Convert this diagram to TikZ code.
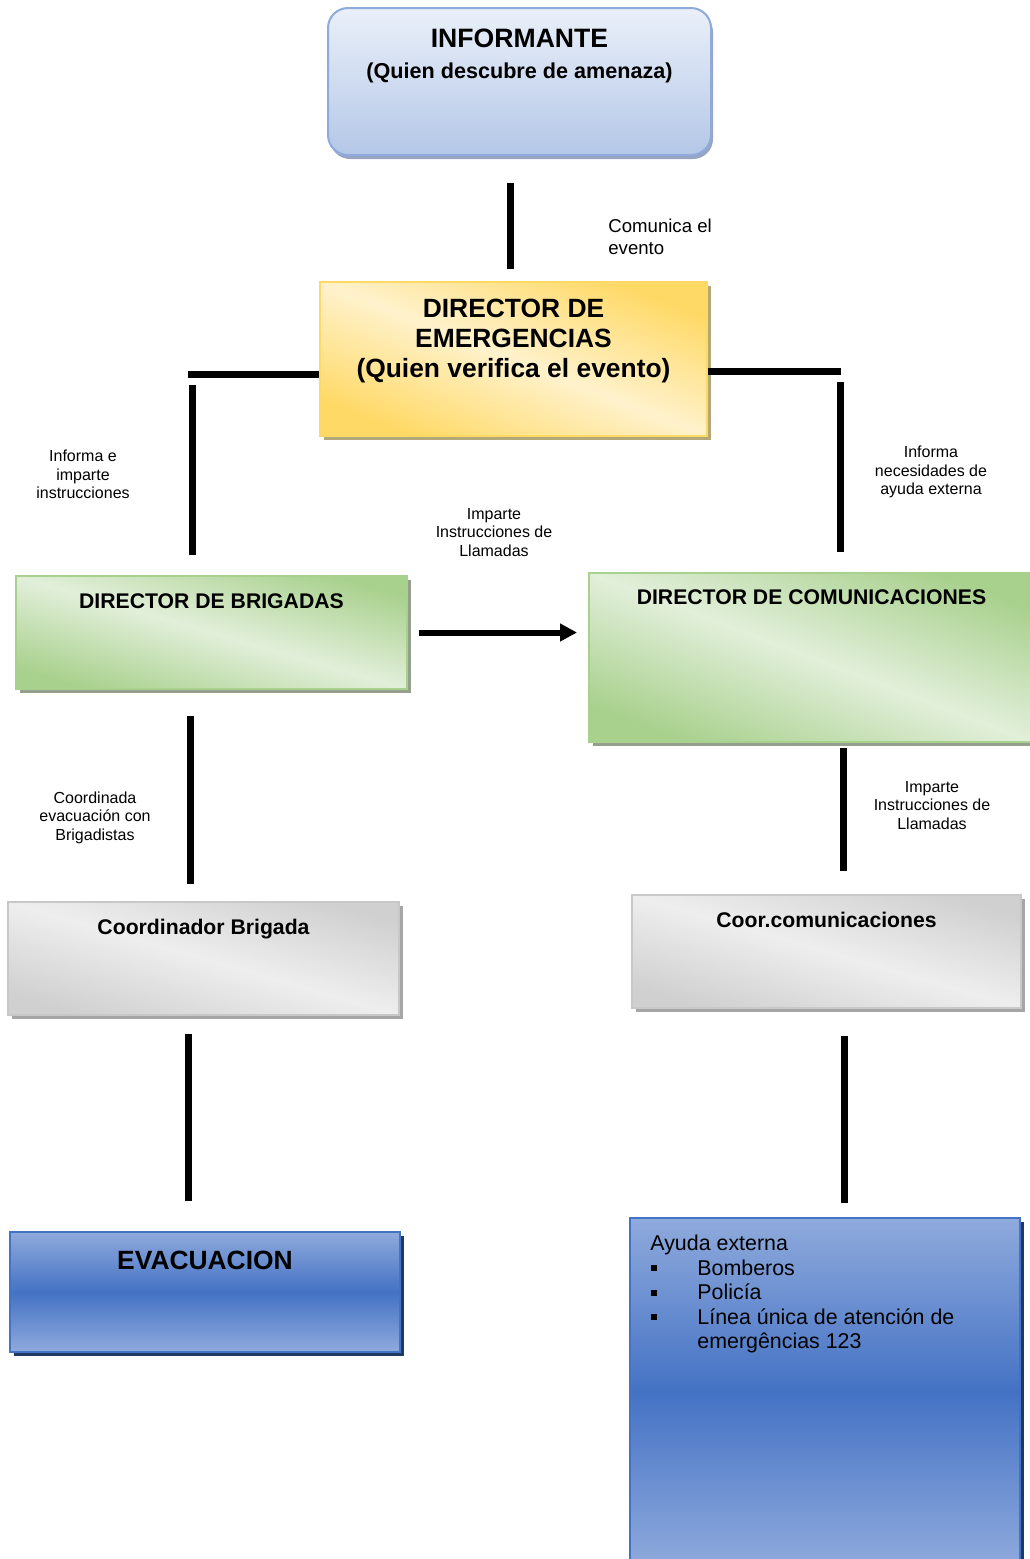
\documentclass[tikz,border=0pt]{standalone}
\usepackage{fontspec}
\setmainfont{Liberation Sans}
\usetikzlibrary{calc,shadows,arrows.meta}
\definecolor{infArriba}{HTML}{EAF0F9}
\definecolor{infAbajo}{HTML}{B4C7E7}
\definecolor{infBorde}{HTML}{8FAADC}
\definecolor{infSombra}{HTML}{97A5C0}
\definecolor{amaBorde}{HTML}{FFD966}
\definecolor{amaClaro}{HTML}{FFF2CC}
\definecolor{amaSombra}{HTML}{B3A878}
\definecolor{verBorde}{HTML}{A9D18E}
\definecolor{verClaro}{HTML}{E2EFDA}
\definecolor{verSombra}{HTML}{959F8E}
\definecolor{grisBorde}{HTML}{C8C8C8}
\definecolor{grisOsc}{HTML}{D0D0D0}
\definecolor{grisClaro}{HTML}{EEEEEE}
\definecolor{grisSombra}{HTML}{A6A6A6}
\definecolor{azulC}{HTML}{8FAADC}
\definecolor{azulO}{HTML}{4472C4}
\definecolor{azulSombra}{HTML}{1F3864}
\newcommand{\bala}{\hspace*{0.5pt}\makebox[23pt][l]{\rule[2pt]{3pt}{3pt}}}
\begin{document}
\begin{tikzpicture}[x=0.5pt,y=-0.5pt,
    caja/.style={draw,line width=1pt,inner sep=0pt},
    diag/.style n args={3}{shading=axis,top color=#1,bottom color=#1,middle color=#2,shading angle=#3},
    azul/.style={top color=azulC,bottom color=azulC,middle color=azulO},
    sombra/.style={drop shadow={shadow xshift=2pt,shadow yshift=-2pt,fill=#1,opacity=1}},
    tit/.style={anchor=north,inner sep=0pt,font=\bfseries\fontsize{10.6}{13}\selectfont},
    nota/.style={anchor=north,inner sep=0pt,align=center,font=\fontsize{8}{9.25}\selectfont},
    linea/.style={line width=3.5pt},
    flecha/.style={line width=3pt,-{Triangle[length=8.5pt,width=8.5pt]}}]
    \useasboundingbox (0,0) rectangle (1029,1559);
    %Cajas
    \node[caja,rounded corners=10pt,draw=infBorde,top color=infArriba,bottom color=infAbajo,
      drop shadow={shadow xshift=1pt,shadow yshift=-2pt,fill=infSombra,opacity=1},
      minimum width=191.5pt,minimum height=73.5pt,
      label={[tit,yshift=-11pt,font=\bfseries\fontsize{13.3}{16}\selectfont]north:{INFORMANTE}},
      label={[tit,yshift=-27.5pt,font=\bfseries\fontsize{10.8}{13}\selectfont]north:{(Quien descubre de amenaza)}}] (inf) at (519.5,81.5) {};
    \node[caja,draw=amaBorde,diag={amaBorde}{amaClaro}{-21.7},sombra=amaSombra,minimum width=193.5pt,minimum height=77pt,
      label={[tit,yshift=-8.75pt,align=center,font=\bfseries\fontsize{13.2}{15}\selectfont]north:{DIRECTOR DE\\EMERGENCIAS\\(Quien verifica el evento)}}] (dem) at (513.5,359) {};
    \node[caja,draw=verBorde,diag={verBorde}{verClaro}{-16.1},sombra=verSombra,minimum width=195.5pt,minimum height=56.5pt,
      label={[tit,yshift=-9pt]north:{DIRECTOR DE BRIGADAS}}] (brig) at (211.5,632.5) {};
    \node[caja,draw=verBorde,diag={verBorde}{verClaro}{-20.8},sombra=verSombra,minimum width=222.5pt,minimum height=84.5pt,
      label={[tit,yshift=-8.5pt]north:{DIRECTOR DE COMUNICACIONES}}] (com) at (811.5,657.5) {};
    \node[caja,draw=grisBorde,diag={grisOsc}{grisClaro}{-16.1},sombra=grisSombra,minimum width=195.5pt,minimum height=56.5pt,
      label={[tit,yshift=-9pt]north:{Coordinador Brigada}}] (coorb) at (203.5,958.5) {};
    \node[caja,draw=grisBorde,diag={grisOsc}{grisClaro}{-16.1},sombra=grisSombra,minimum width=194.5pt,minimum height=56.5pt,
      label={[tit,yshift=-9pt]north:{Coor.comunicaciones}}] (coorc) at (826.5,951.5) {};
    \node[caja,draw=azulO,azul,sombra=azulSombra,minimum width=195pt,minimum height=60pt,
      label={[tit,yshift=-9.75pt,font=\bfseries\fontsize{13.2}{15}\selectfont]north:{EVACUACION}}] (evac) at (205,1292) {};
    \node[caja,draw=azulO,azul,sombra=azulSombra,minimum width=195pt,minimum height=174pt,
      label={[anchor=north west,inner sep=0pt,align=left,xshift=10.5pt,yshift=-9pt,font=\fontsize{10.7}{12.25}\selectfont]north west:{Ayuda externa\\\bala Bomberos\\\bala Policía\\\bala Línea única de atención de\\\hspace*{23.5pt}emergências 123}}] (ayuda) at (825,1392) {};
    %Textos
    \node[nota,anchor=north west,align=left,font=\fontsize{9.3}{11}\selectfont] (n0) at (608,219) {Comunica el\\evento};
    \node[nota] (n1) at (83,450) {Informa e\\imparte\\instrucciones};
    \node[nota] (n2) at (931,446) {Informa\\necesidades de\\ayuda externa};
    \node[nota] (n3) at (494,508) {Imparte\\Instrucciones de\\Llamadas};
    \node[nota] (n4) at (95,791) {Coordinada\\evacuación con\\Brigadistas};
    \node[nota] (n5) at (932,781) {Imparte\\Instrucciones de\\Llamadas};
    %Lineas
    \draw[linea] ($(inf.south)+(-9.5,27)$) -- ($(dem.north)+(-3.5,-12)$);
    \draw[linea] ($(dem.west)+(0,15.5)$) -- ++(-131,0);
    \draw[linea] ($(brig.north)+(-19.5,-190)$) -- ($(brig.north)+(-19.5,-20)$);
    \draw[linea] ($(dem.east)+(0,12)$) -- ++(133,0);
    \draw[linea] ($(com.north)+(28.5,-190)$) -- ($(com.north)+(28.5,-20)$);
    \draw[flecha] ($(brig.east)+(11,0)$) -- ($(brig.east -| com.west)+(-11,0)$);
    \draw[linea] ($(brig.south)+(-21.5,26)$) -- ($(coorb.north)+(-13.5,-17)$);
    \draw[linea] ($(com.south)+(31.5,5)$) -- ($(coorc.north)+(16.5,-23)$);
    \draw[linea] ($(coorb.south)+(-15.5,18)$) -- ($(evac.north)+(-17,-30)$);
    \draw[linea] ($(coorc.south)+(17.5,27)$) -- ($(ayuda.north)+(19,-14)$);
\end{tikzpicture}
\end{document}
